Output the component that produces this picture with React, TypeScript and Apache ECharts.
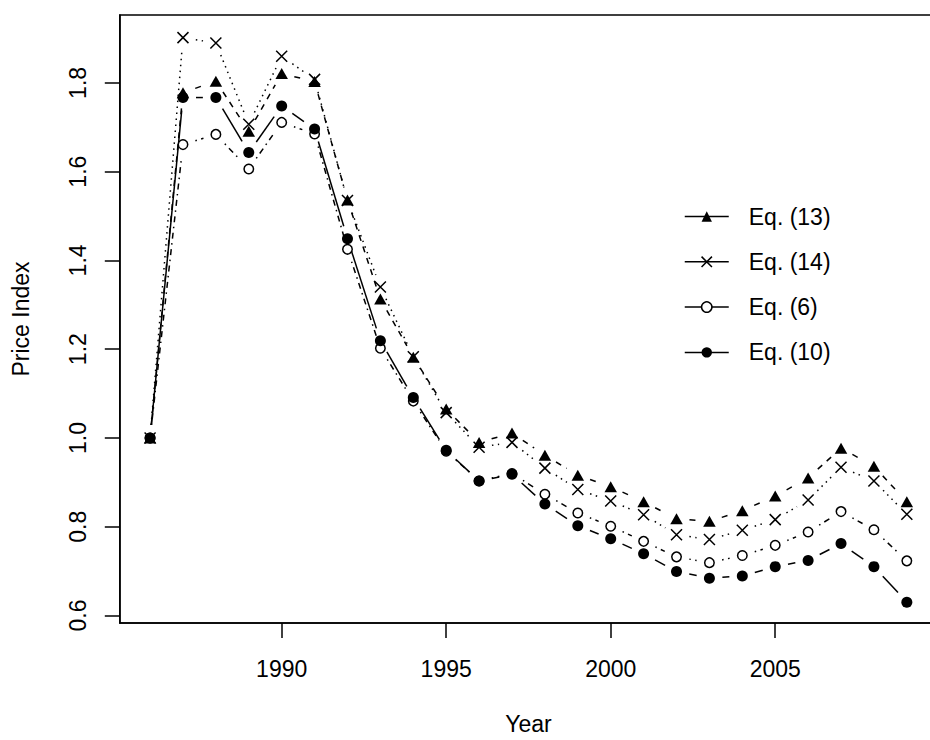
import React, { useEffect, useRef } from 'react';
import * as echarts from 'echarts';

const years = [1986, 1987, 1988, 1989, 1990, 1991, 1992, 1993, 1994, 1995, 1996, 1997, 1998, 1999, 2000, 2001, 2002, 2003, 2004, 2005, 2006, 2007, 2008, 2009];
const eq13 = [1.0, 1.778, 1.804, 1.691, 1.821, 1.803, 1.536, 1.313, 1.182, 1.065, 0.99, 1.011, 0.961, 0.916, 0.89, 0.856, 0.818, 0.812, 0.836, 0.869, 0.91, 0.977, 0.936, 0.856];
const eq14 = [1.0, 1.902, 1.89, 1.707, 1.86, 1.808, 1.535, 1.34, 1.183, 1.057, 0.979, 0.99, 0.932, 0.884, 0.858, 0.827, 0.782, 0.771, 0.792, 0.816, 0.86, 0.934, 0.903, 0.828];
const eq6 = [1.0, 1.661, 1.684, 1.606, 1.711, 1.685, 1.425, 1.202, 1.083, 0.97, 0.903, 0.92, 0.873, 0.831, 0.801, 0.767, 0.732, 0.719, 0.735, 0.758, 0.788, 0.834, 0.793, 0.723];
const eq10 = [1.0, 1.767, 1.767, 1.643, 1.748, 1.696, 1.449, 1.219, 1.091, 0.972, 0.903, 0.918, 0.851, 0.802, 0.773, 0.739, 0.699, 0.684, 0.689, 0.71, 0.724, 0.762, 0.71, 0.63];
const seriesNames = ['Eq. (13)', 'Eq. (14)', 'Eq. (6)', 'Eq. (10)'];
const xTicks = [1990, 1995, 2000, 2005];
const yTicks = [0.6, 0.8, 1.0, 1.2, 1.4, 1.6, 1.8];

const FONT = "'Liberation Sans', Arial, Helvetica, sans-serif";
const GAP = 13;
const LW = 1.5;
const CANVAS_W = 942;

const crossPath = 'path://M0,0L10,10M10,0L0,10';

export default function App() {
  const ref = useRef<HTMLDivElement>(null);
  useEffect(() => {
    if (!ref.current) return;
    const chart = echarts.init(ref.current, null, { renderer: 'svg' });

    const seriesDefs = [
      { name: seriesNames[0], values: eq13, symbol: 'triangle', size: [12.5, 11] as any, itemStyle: { color: '#000', borderWidth: 0 }, dash: [6, 6] },
      { name: seriesNames[1], values: eq14, symbol: crossPath, size: 11, itemStyle: { color: '#000', borderColor: '#000', borderWidth: LW }, dash: [1.5, 4.5] },
      { name: seriesNames[2], values: eq6, symbol: 'circle', size: 9.5, itemStyle: { color: '#fff', borderColor: '#000', borderWidth: LW }, dash: [1.5, 4.5, 6, 4.5] },
      { name: seriesNames[3], values: eq10, symbol: 'circle', size: 11, itemStyle: { color: '#000', borderWidth: 0 }, dash: null as any },
    ];

    const markerSeries = seriesDefs.map((s) => ({
      type: 'line',
      name: s.name,
      data: years.map((y, i) => [y, s.values[i]]),
      symbol: s.symbol,
      symbolSize: s.size,
      showSymbol: true,
      showAllSymbol: true,
      itemStyle: s.itemStyle,
      lineStyle: { width: 0, opacity: 0 },
      z: 3,
      silent: true,
    }));

    const segSeries = seriesDefs.map((s) => {
      const segs: number[][] = [];
      for (let i = 0; i < years.length - 1; i++) {
        segs.push([years[i], s.values[i], years[i + 1], s.values[i + 1]]);
      }
      const dash = s.dash;
      return {
        type: 'custom',
        name: s.name,
        data: segs,
        encode: { x: [0, 2], y: [1, 3] },
        z: 1,
        silent: true,
        renderItem: (params: any, api: any) => {
          const a = api.coord([api.value(0), api.value(1)]);
          const b = api.coord([api.value(2), api.value(3)]);
          const dx = b[0] - a[0];
          const dy = b[1] - a[1];
          const d = Math.hypot(dx, dy);
          if (d <= 2 * GAP) return null;
          const ux = dx / d;
          const uy = dy / d;
          return {
            type: 'line',
            shape: { x1: a[0] + ux * GAP, y1: a[1] + uy * GAP, x2: b[0] - ux * GAP, y2: b[1] - uy * GAP },
            style: { stroke: '#000', lineWidth: LW, lineDash: dash || undefined, fill: null },
          };
        },
      };
    });

    const option: any = {
      animation: false,
      backgroundColor: '#fff',
      textStyle: { fontFamily: FONT, color: '#000' },
      grid: {
        left: 119.8,
        right: CANVAS_W - 937.1,
        top: 15,
        bottom: 110.7,
        show: true,
        borderColor: '#000',
        borderWidth: LW,
        backgroundColor: 'transparent',
      },
      legend: {
        orient: 'vertical',
        left: 684,
        top: 200,
        padding: 0,
        itemWidth: 44,
        itemHeight: 13,
        itemGap: 12.3,
        selectedMode: false,
        textStyle: { fontFamily: FONT, fontSize: 23, color: '#000', lineHeight: 23, padding: [10, 0, 0, 15] },
        lineStyle: { width: LW, type: 'solid', color: '#000', opacity: 1 },
        data: [
          { name: seriesNames[0], itemStyle: { borderWidth: 0 } },
          { name: seriesNames[1], itemStyle: { borderWidth: LW, borderColor: '#000' } },
          { name: seriesNames[2], itemStyle: { borderWidth: LW, borderColor: '#000', color: '#fff' } },
          { name: seriesNames[3], itemStyle: { borderWidth: 0 } },
        ],
      },
      xAxis: {
        type: 'value',
        min: 1985.08,
        max: 2009.92,
        name: 'Year',
        nameLocation: 'middle',
        nameGap: 89,
        nameTextStyle: { fontFamily: FONT, fontSize: 23, color: '#000', lineHeight: 23 },
        axisLine: { show: true, onZero: false, lineStyle: { color: '#000', width: LW } },
        axisTick: { show: true, length: 15, inside: false, customValues: xTicks, lineStyle: { color: '#000', width: LW } },
        axisLabel: { show: true, margin: 34, fontFamily: FONT, fontSize: 23, color: '#000', lineHeight: 23, customValues: xTicks, formatter: (v: number) => String(v) },
        splitLine: { show: false },
      },
      yAxis: {
        type: 'value',
        min: 0.583,
        max: 1.953,
        name: 'Price Index',
        nameLocation: 'middle',
        nameGap: 87,
        nameTextStyle: { fontFamily: FONT, fontSize: 23, color: '#000', lineHeight: 23 },
        axisLine: { show: true, onZero: false, lineStyle: { color: '#000', width: LW } },
        axisTick: { show: true, length: 15, inside: false, customValues: yTicks, lineStyle: { color: '#000', width: LW } },
        axisLabel: { show: true, rotate: 90, margin: 30, fontFamily: FONT, fontSize: 23, color: '#000', lineHeight: 23, customValues: yTicks, formatter: (v: number) => v.toFixed(1) },
        splitLine: { show: false },
      },
      series: [...markerSeries, ...segSeries],
    };

    chart.setOption(option);
    return () => chart.dispose();
  }, []);

  return (
    <div style={{ position: 'absolute', left: 0, top: 0, width: 930, height: 740, overflow: 'hidden', background: '#fff' }}>
      <div ref={ref} style={{ width: CANVAS_W, height: 740 }} />
    </div>
  );
}
